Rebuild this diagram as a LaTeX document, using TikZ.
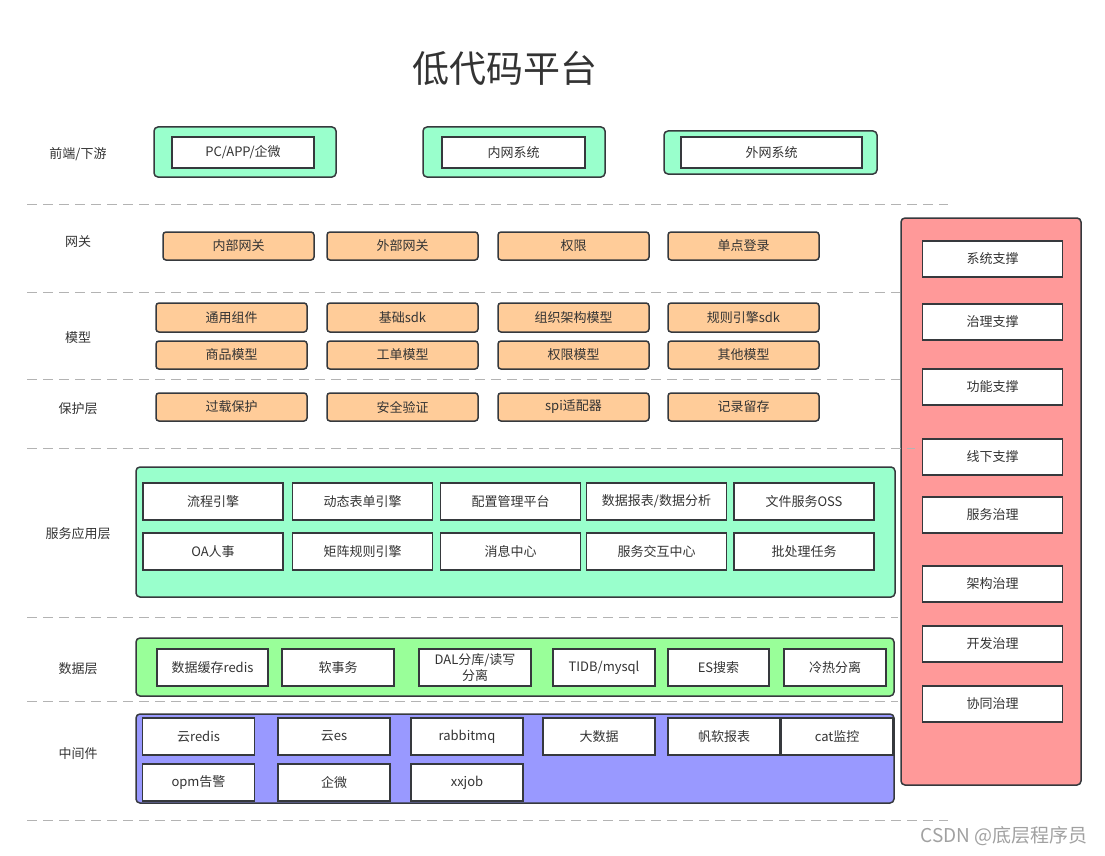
\documentclass[tikz,border=0pt]{standalone}
\usepackage{fontspec}
\setmainfont{Noto Sans CJK SC}

\definecolor{panelgreen}{HTML}{99FFCC}
\definecolor{datagreen}{HTML}{99FF99}
\definecolor{midblue}{HTML}{9999FF}
\definecolor{sidered}{HTML}{FF9999}
\definecolor{boxorange}{HTML}{FFCC99}
\definecolor{edgegray}{HTML}{36393D}
\definecolor{textgray}{HTML}{333333}
\definecolor{linegray}{HTML}{B3B3B3}

\tikzset{
  panel/.style={draw=edgegray, line width=1.5pt, rounded corners=4pt, inner sep=0pt},
  whitebox/.style={draw=edgegray, line width=1.5pt, fill=white, inner sep=0pt,
    text=textgray, align=center, font=\fontsize{13}{16}\selectfont},
  orangebox/.style={whitebox, fill=boxorange, rounded corners=3pt,
    minimum width=151pt},
  layerlabel/.style={text=textgray, font=\fontsize{13}{16}\selectfont},
  sepline/.style={linegray, line width=1pt, dash pattern=on 10pt off 6pt}
}

\begin{document}
\begin{tikzpicture}[x=1pt, y=-1pt]
  \useasboundingbox (0,0) rectangle (1105,856);

  % Title
  \node[text=textgray, font=\fontsize{37}{40}\selectfont] (title) at (505,68) {低代码平台};

  % Layer labels
  \foreach \y/\nm/\txt in {154/lblFront/{前端/下游}, 242/lblGate/网关, 338/lblModel/模型,
    409/lblGuard/保护层, 534/lblService/服务应用层, 669/lblData/数据层, 754/lblMiddle/中间件}
  {
    \node[layerlabel] (\nm) at (78,\y) {\txt};
  }

  % Front / downstream
  \node[panel, fill=panelgreen, minimum width=182pt, minimum height=50pt] (pcPanel) at (245,152) {};
  \node[whitebox, minimum width=142pt, minimum height=31pt] (pcBox) at (243,152.5) {PC/APP/企微};

  \node[panel, fill=panelgreen, minimum width=182pt, minimum height=50pt] (innerPanel) at (514,152) {};
  \node[whitebox, minimum width=143pt, minimum height=31pt] (innerBox) at (513.5,152.5) {内网系统};

  \node[panel, fill=panelgreen, minimum width=213pt, minimum height=43pt] (outerPanel) at (770.5,152.5) {};
  \node[whitebox, minimum width=181pt, minimum height=31pt] (outerBox) at (771.5,152.5) {外网系统};

  % Gateway
  \foreach \x/\nm/\txt in {238.5/gwInner/内部网关, 402.5/gwOuter/外部网关,
    573.5/gwAuth/权限, 743.5/gwSso/单点登录}
  {
    \node[orangebox, minimum height=28pt] (\nm) at (\x,246) {\txt};
  }

  % Models
  \foreach \x/\nm/\txt in {231.5/mdCommon/通用组件, 402.5/mdSdk/基础sdk,
    573.5/mdOrg/组织架构模型, 743.5/mdRule/规则引擎sdk}
  {
    \node[orangebox, minimum height=29pt] (\nm) at (\x,317.5) {\txt};
  }
  \foreach \x/\nm/\txt in {231.5/mdGoods/商品模型, 402.5/mdTicket/工单模型,
    573.5/mdAuth/权限模型, 743.5/mdOther/其他模型}
  {
    \node[orangebox, minimum height=28pt] (\nm) at (\x,355) {\txt};
  }

  % Protection layer
  \foreach \x/\nm/\txt in {231.5/gdOverload/过载保护, 402.5/gdSecure/安全验证,
    573.5/gdSpi/spi适配器, 743.5/gdLog/记录留存}
  {
    \node[orangebox, minimum height=28pt] (\nm) at (\x,407) {\txt};
  }

  % Service application layer
  \node[panel, fill=panelgreen, minimum width=759pt, minimum height=130pt] (svcPanel) at (515.5,532) {};
  \foreach \x/\nm/\txt in {213/svFlow/流程引擎, 362.5/svForm/动态表单引擎, 510.5/svConf/配置管理平台,
    656.5/svReport/{数据报表/数据分析}, 804/svFile/文件服务OSS}
  {
    \node[whitebox, minimum width=140pt, minimum height=37pt] (\nm) at (\x,501.5) {\txt};
  }
  \foreach \x/\nm/\txt in {213/svOa/OA人事, 362.5/svMatrix/矩阵规则引擎, 510.5/svMsg/消息中心,
    656.5/svInteract/服务交互中心, 804/svBatch/批处理任务}
  {
    \node[whitebox, minimum width=140pt, minimum height=37pt] (\nm) at (\x,551.5) {\txt};
  }

  % Data layer
  \node[panel, fill=datagreen, minimum width=758pt, minimum height=58pt] (dataPanel) at (515,667) {};
  \foreach \x/\w/\nm/\txt in {212.5/111/dtCache/数据缓存redis, 338/112/dtTx/软事务,
    475/112/dtDal/{DAL分库/读写\\分离}, 604/102/dtDb/{TIDB/mysql},
    718.5/101/dtEs/ES搜索, 835/102/dtCold/冷热分离}
  {
    \node[whitebox, minimum width=\w pt, minimum height=37pt] (\nm) at (\x,667.5) {\txt};
  }

  % Middleware
  \node[panel, fill=midblue, minimum width=758pt, minimum height=89pt] (midPanel) at (515,758.5) {};
  \foreach \x/\nm/\txt in {198.5/mwRedis/云redis, 334/mwEs/云es, 467/mwMq/rabbitmq,
    599/mwBig/大数据, 724/mwFine/帆软报表, 837/mwCat/cat监控}
  {
    \node[whitebox, minimum width=112pt, minimum height=37pt] (\nm) at (\x,736.5) {\txt};
  }
  \foreach \x/\nm/\txt in {198.5/mwOpm/opm告警, 334/mwWx/企微, 467/mwJob/xxjob}
  {
    \node[whitebox, minimum width=112pt, minimum height=37pt] (\nm) at (\x,782.5) {\txt};
  }

  % Support and governance column
  \node[panel, fill=sidered, minimum width=180pt, minimum height=567pt] (sidePanel) at (991,501.5) {};
  \foreach \y/\nm/\txt in {259/sdSys/系统支撑, 322/sdGov/治理支撑, 387/sdFunc/功能支撑,
    457/sdOff/线下支撑, 515/sdSvc/服务治理, 584/sdArch/架构治理,
    644/sdDev/开发治理, 704/sdCoop/协同治理}
  {
    \node[whitebox, minimum width=140pt, minimum height=36pt] (\nm) at (992.5,\y) {\txt};
  }

  % Separator lines
  \foreach \y/\xend in {204/948, 292/900, 379/900, 448/915, 617/898, 701/898, 820/948}
  {
    \draw[sepline] (27,\y) -- (\xend,\y);
  }

  % Watermark
  \node[text=linegray!90!black, font=\fontsize{19}{22}\selectfont] (mark) at (1004,836) {CSDN @底层程序员};
\end{tikzpicture}
\end{document}
